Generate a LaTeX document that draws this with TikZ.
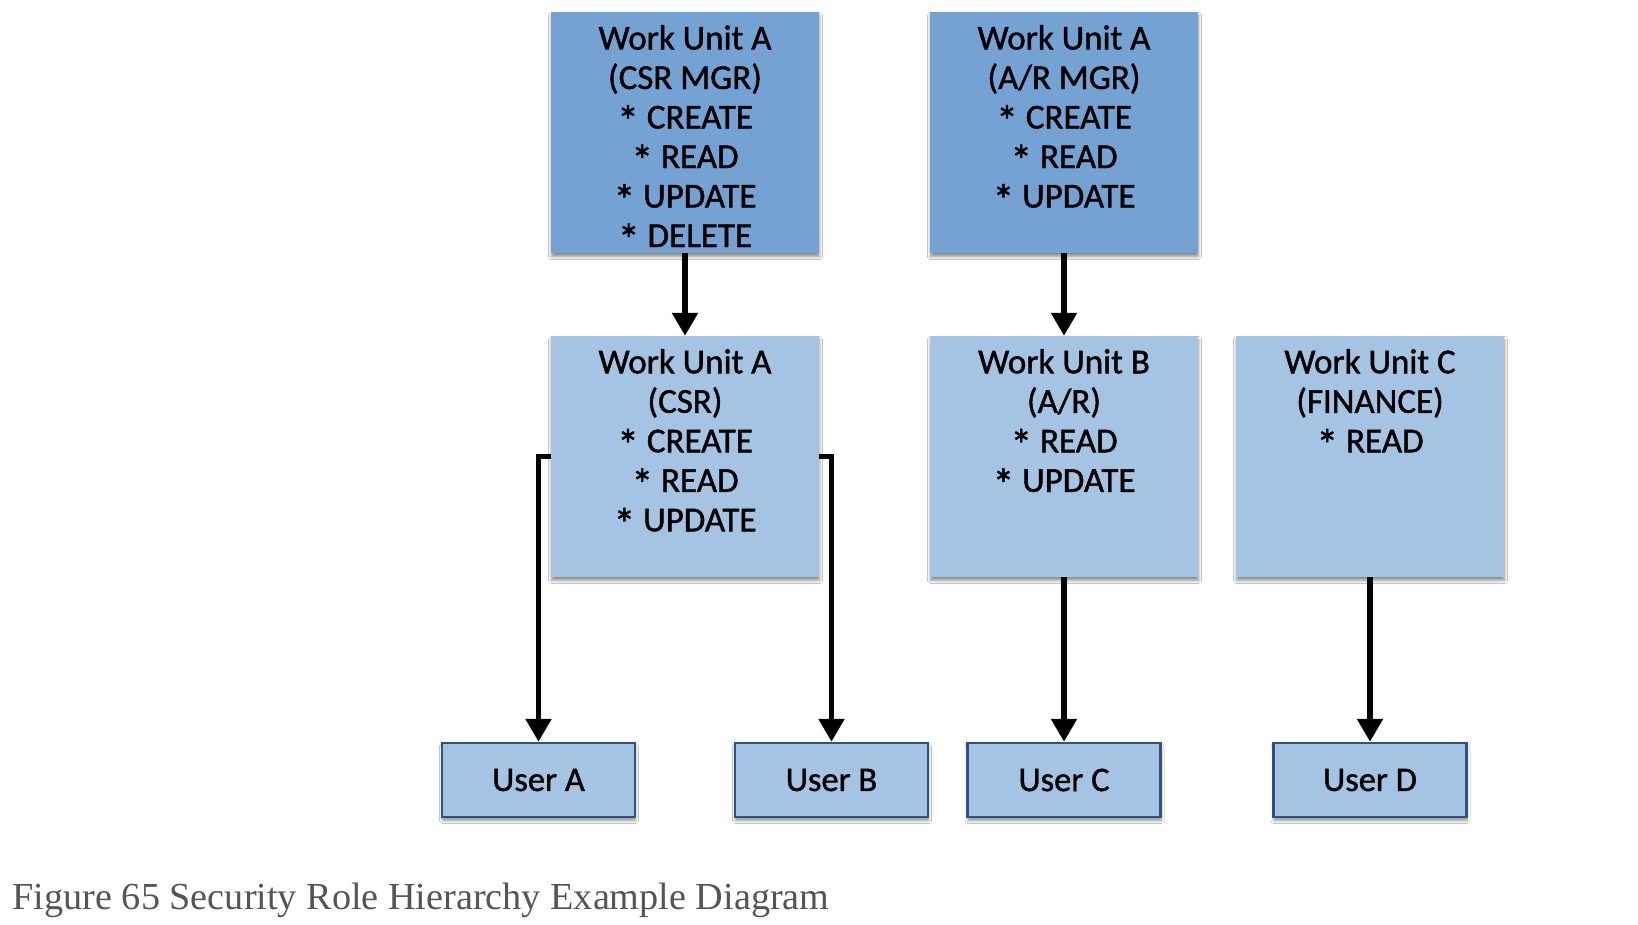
\documentclass[tikz,border=0pt]{standalone}
\usepackage{fontspec}
\usepackage{graphicx}
\setmainfont{Liberation Serif}
\newfontfamily\boxfont{Carlito}[RawFeature={embolden=1.2}]
\usetikzlibrary{shadows.blur,arrows.meta}
\definecolor{darkbox}{RGB}{116,162,211}
\definecolor{lightbox}{RGB}{165,195,227}
\definecolor{userborder}{RGB}{48,82,128}
\definecolor{captiongray}{RGB}{85,85,85}
\newcommand\permstar{\smash{\raisebox{-0.22em}{\scalebox{1.25}{*}}}}
\begin{document}
\begin{tikzpicture}[x=1pt,y=-1pt,
  boxshadow/.style={blur shadow={shadow xshift=0.5pt,shadow yshift=-3.5pt,shadow blur radius=3pt,shadow blur steps=6,shadow opacity=45}},
  unitbox/.style={rectangle, minimum width=268pt, minimum height=241pt, inner sep=0pt, boxshadow},
  mgrbox/.style={unitbox, fill=darkbox},
  rolebox/.style={unitbox, fill=lightbox},
  userbox/.style={rectangle, draw=userborder, line width=2.5pt, fill=lightbox, minimum width=193pt, minimum height=74pt, inner sep=0pt, boxshadow, font=\boxfont\fontsize{34.5}{39.5}\selectfont},
  boxtext/.style={anchor=north, align=center, inner sep=0pt, font=\boxfont\fontsize{35}{39.5}\selectfont},
  arr/.style={line width=5.5pt, -{Triangle[width=25pt,length=23pt]}},
]
\useasboundingbox (0,0) rectangle (1638,924);
\fill[white] (0,0) rectangle (1638,924);

% top manager boxes
\node[mgrbox] (t1) at (685,132.7) {};
\node[mgrbox] (t2) at (1064,132.7) {};
% middle role boxes
\node[rolebox] (m1) at (685,456.5) {};
\node[rolebox] (m2) at (1064,456.5) {};
\node[rolebox] (m3) at (1370,456.5) {};

\node[boxtext] (t1txt) at ([yshift=-13pt]t1.north) {Work Unit A\\(CSR MGR)\\\permstar{} CREATE\\\permstar{} READ\\\permstar{} UPDATE\\\permstar{} DELETE};
\node[boxtext] (t2txt) at ([yshift=-13pt]t2.north) {Work Unit A\\(A/R MGR)\\\permstar{} CREATE\\\permstar{} READ\\\permstar{} UPDATE};
\node[boxtext] (m1txt) at ([yshift=-13pt]m1.north) {Work Unit A\\(CSR)\\\permstar{} CREATE\\\permstar{} READ\\\permstar{} UPDATE};
\node[boxtext] (m2txt) at ([yshift=-13pt]m2.north) {Work Unit B\\(A/R)\\\permstar{} READ\\\permstar{} UPDATE};
\node[boxtext] (m3txt) at ([yshift=-13pt]m3.north) {Work Unit C\\(FINANCE)\\\permstar{} READ};

% users
\node[userbox] (ua) at (538.5,780) {User A};
\node[userbox] (ub) at (831.5,780) {User B};
\node[userbox] (uc) at (1064,780) {User C};
\node[userbox] (ud) at (1370,780) {User D};

% connectors
\draw[arr] (t1.south) -- (m1.north);
\draw[arr] (t2.south) -- (m2.north);
\draw[arr] (m1.west) -| (ua.north);
\draw[arr] (m1.east) -| (ub.north);
\draw[arr] (m2.south) -- (uc.north);
\draw[arr] (m3.south) -- (ud.north);

% caption
\node[anchor=base west, inner sep=0pt, text=captiongray, font=\fontsize{38.2}{40}\selectfont] (caption) at (12.5,909) {Figure 65 Security Role Hierarchy Example Diagram};
\end{tikzpicture}
\end{document}
